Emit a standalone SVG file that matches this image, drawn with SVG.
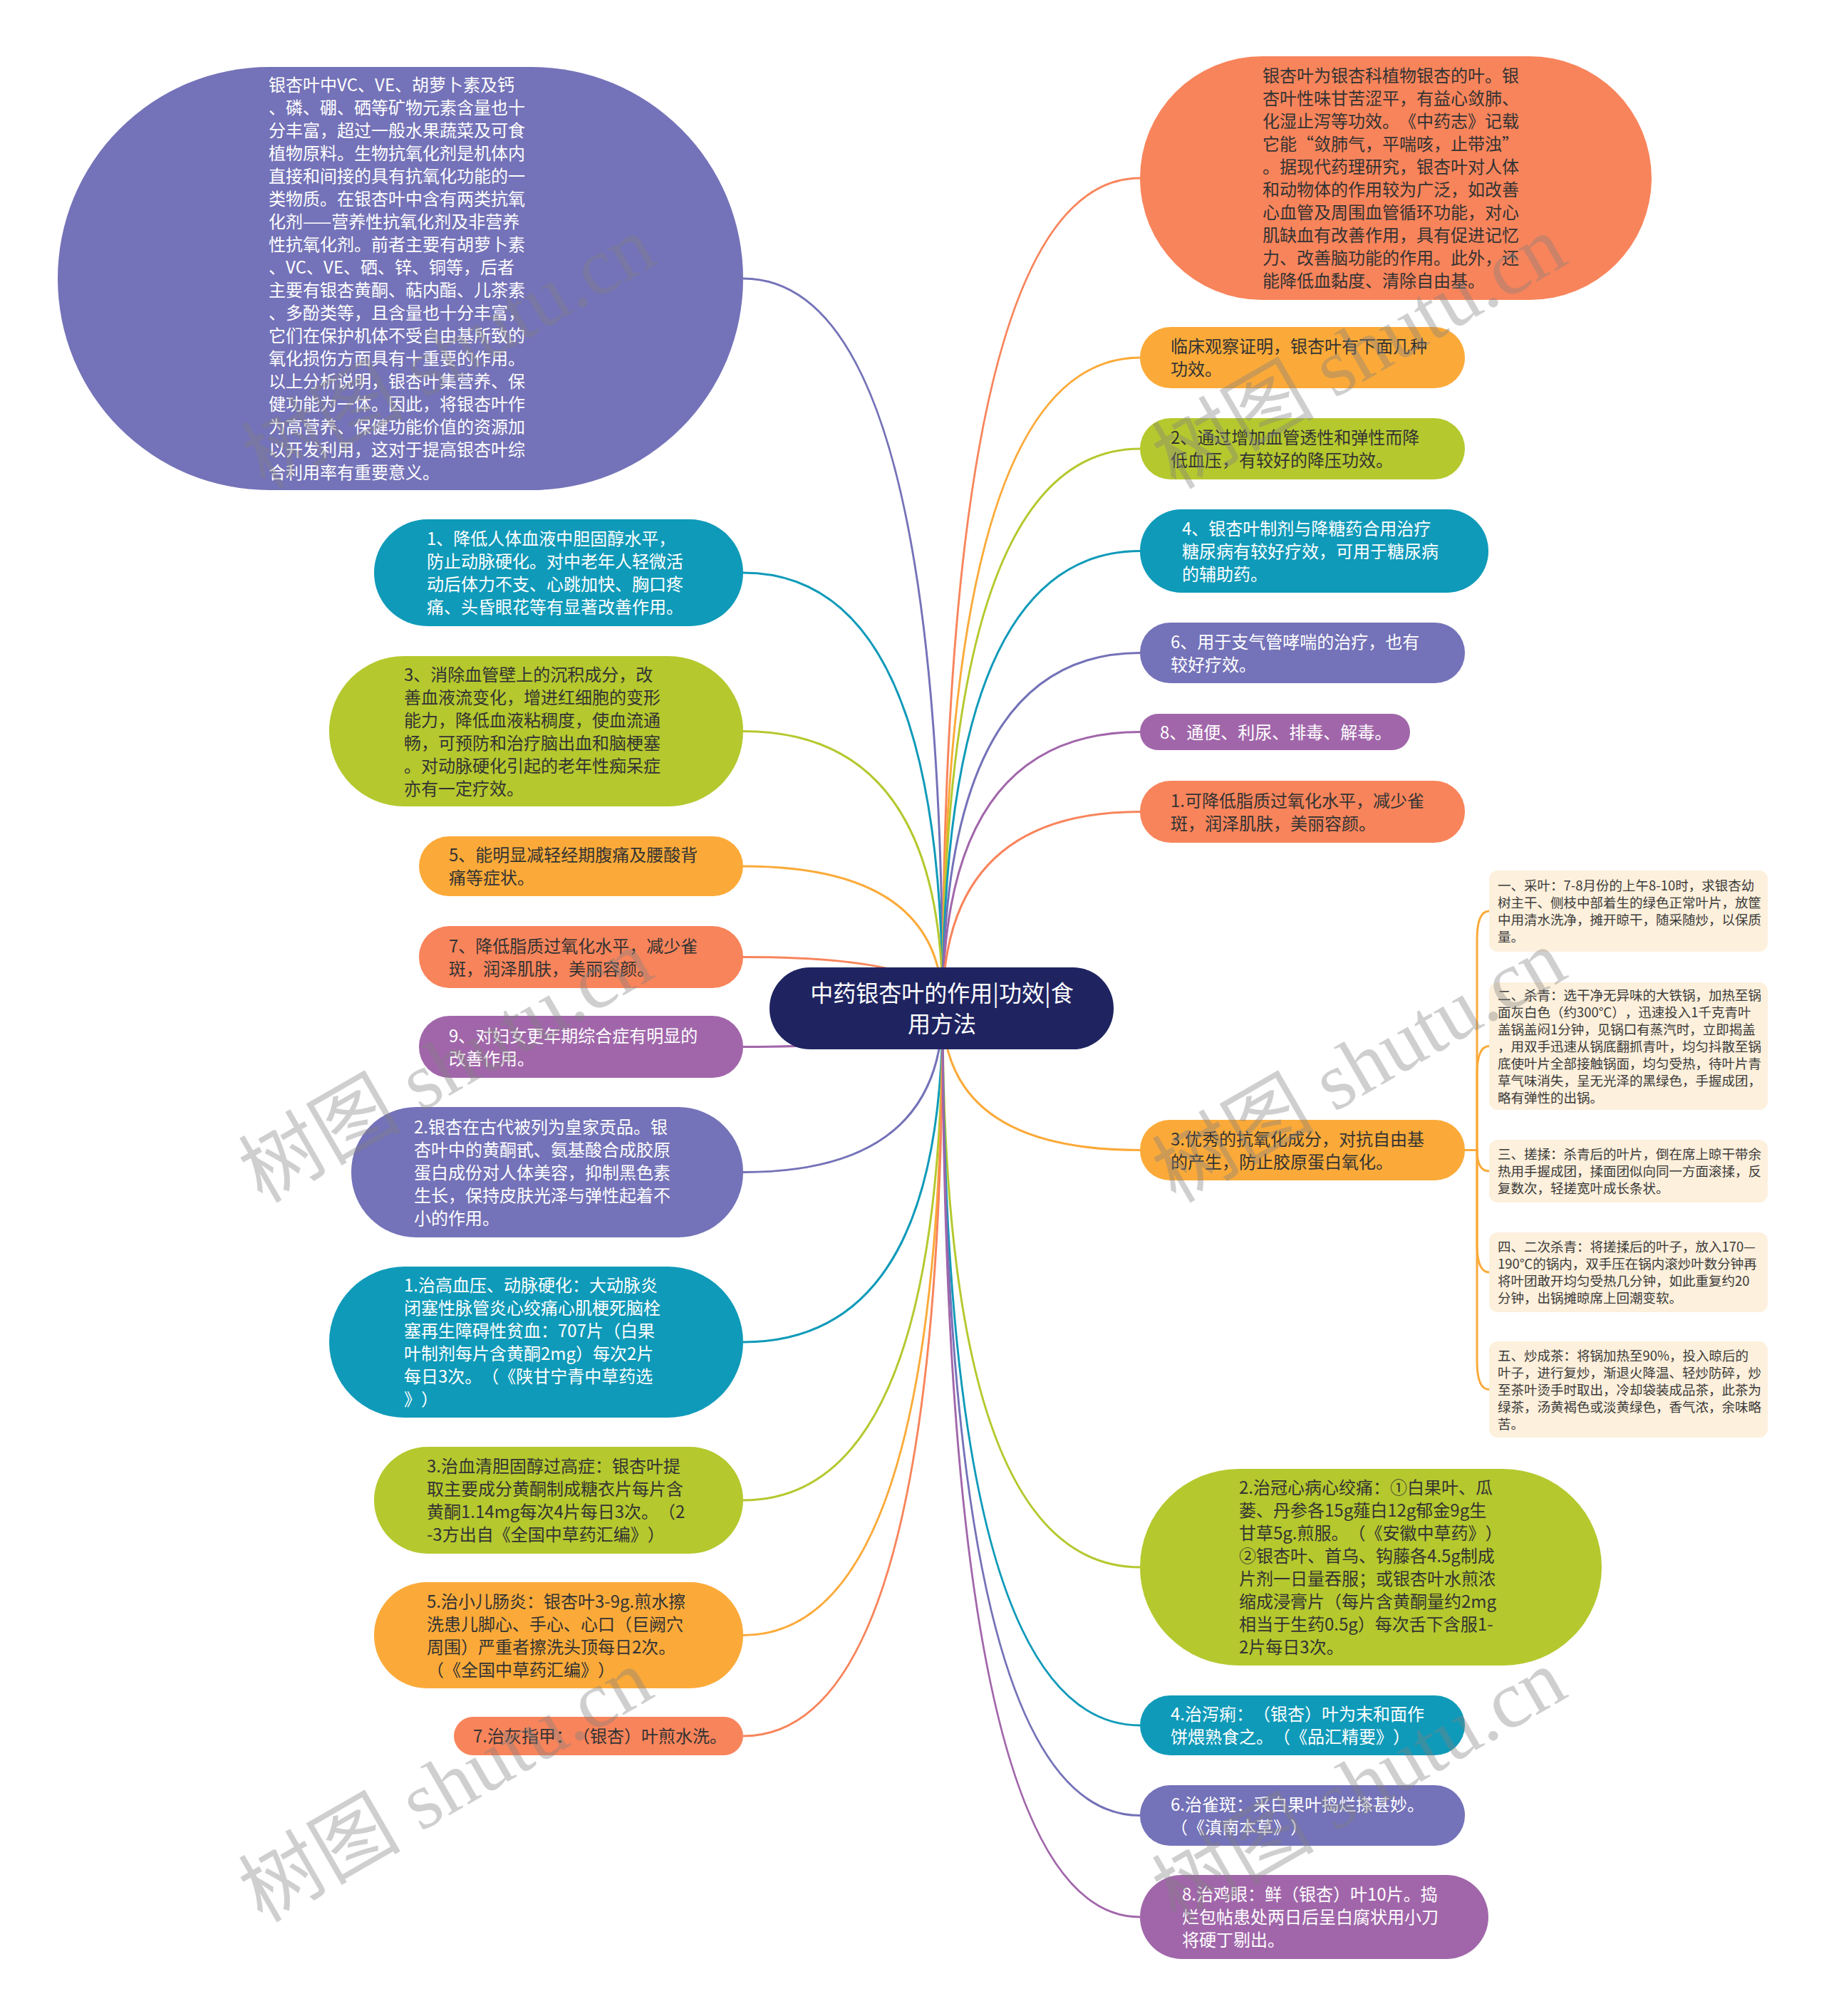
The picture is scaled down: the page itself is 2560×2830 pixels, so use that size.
<svg xmlns="http://www.w3.org/2000/svg" width="2560" height="2830" viewBox="0 0 2560 2830">
<style>
text{font-family:"Noto Sans CJK SC","Noto Sans",sans-serif;font-size:24px;text-spacing-trim:space-all;font-kerning:none}
.w{fill:#ffffff}
.d{fill:#333333}
.s{font-size:18.5px;fill:#3a3a3a}
.c{fill:none;stroke-width:3}
.pb{fill:#7472b8}.te{fill:#0f9ab9}.gr{fill:#b5c82e}.or{fill:#fbaa39}.sa{fill:#f8845b}.pu{fill:#a166aa}.cr{fill:#fdf0dc}
.spb{stroke:#7472b8}.ste{stroke:#0f9ab9}.sgr{stroke:#b5c82e}.sor{stroke:#fbaa39}.ssa{stroke:#f8845b}.spu{stroke:#a166aa}
.wm{font-family:"Liberation Serif","Noto Sans CJK SC",serif;font-size:114px;fill:#808080;fill-opacity:0.38}
</style>
<rect width="2560" height="2830" fill="#ffffff"/>
<g id="connectors">
<path class="c spb" d="M1323 1415 Q1323 391 1043 391"/>
<path class="c ste" d="M1323 1415 Q1323 804 1043 804"/>
<path class="c sgr" d="M1323 1415 Q1323 1026.5 1043 1026.5"/>
<path class="c sor" d="M1323 1415 Q1323 1216 1043 1216"/>
<path class="c ssa" d="M1323 1415 Q1323 1343.5 1043 1343.5"/>
<path class="c spu" d="M1323 1415 Q1323 1469.5 1043 1469.5"/>
<path class="c spb" d="M1323 1415 Q1323 1645.5 1043 1645.5"/>
<path class="c ste" d="M1323 1415 Q1323 1884 1043 1884"/>
<path class="c sgr" d="M1323 1415 Q1323 2106 1043 2106"/>
<path class="c sor" d="M1323 1415 Q1323 2295.5 1043 2295.5"/>
<path class="c ssa" d="M1323 1415 Q1323 2437 1043 2437"/>
<path class="c ssa" d="M1323 1415 Q1323 250 1600 250"/>
<path class="c sor" d="M1323 1415 Q1323 502 1600 502"/>
<path class="c sgr" d="M1323 1415 Q1323 630 1600 630"/>
<path class="c ste" d="M1323 1415 Q1323 773.5 1600 773.5"/>
<path class="c spb" d="M1323 1415 Q1323 916.5 1600 916.5"/>
<path class="c spu" d="M1323 1415 Q1323 1027.5 1600 1027.5"/>
<path class="c ssa" d="M1323 1415 Q1323 1139.5 1600 1139.5"/>
<path class="c sor" d="M1323 1415 Q1323 1614.5 1600 1614.5"/>
<path class="c sgr" d="M1323 1415 Q1323 2200 1600 2200"/>
<path class="c ste" d="M1323 1415 Q1323 2422 1600 2422"/>
<path class="c spb" d="M1323 1415 Q1323 2548.5 1600 2548.5"/>
<path class="c spu" d="M1323 1415 Q1323 2691 1600 2691"/>
<path class="c sor" d="M2056 1614.5 H2073 V1319 Q2073 1279 2090 1279"/>
<path class="c sor" d="M2056 1614.5 H2073 V1508.5 Q2073 1468.5 2090 1468.5"/>
<path class="c sor" d="M2056 1614.5 H2073 Q2073 1644 2090 1644"/>
<path class="c sor" d="M2056 1614.5 H2073 V1746 Q2073 1786 2090 1786"/>
<path class="c sor" d="M2056 1614.5 H2073 V1910.5 Q2073 1950.5 2090 1950.5"/>
</g>
<g id="center">
<rect x="1080" y="1358" width="483" height="115" rx="57" fill="#1f2461"/>
<text class="w" style="font-size:32px" text-anchor="middle" x="1322" y="1406">中药银杏叶的作用|功效|食<tspan x="1322" dy="43">用方法</tspan></text>
</g>
<g id="L0">
<rect class="pb" x="81" y="94" width="962" height="594" rx="297"/>
<text class="w" x="377" y="128">银杏叶中VC、VE、胡萝卜素及钙<tspan x="377" dy="32">、磷、硼、硒等矿物元素含量也十</tspan><tspan x="377" dy="32">分丰富，超过一般水果蔬菜及可食</tspan><tspan x="377" dy="32">植物原料。生物抗氧化剂是机体内</tspan><tspan x="377" dy="32">直接和间接的具有抗氧化功能的一</tspan><tspan x="377" dy="32">类物质。在银杏叶中含有两类抗氧</tspan><tspan x="377" dy="32">化剂——营养性抗氧化剂及非营养</tspan><tspan x="377" dy="32">性抗氧化剂。前者主要有胡萝卜素</tspan><tspan x="377" dy="32">、VC、VE、硒、锌、铜等，后者</tspan><tspan x="377" dy="32">主要有银杏黄酮、萜内酯、儿茶素</tspan><tspan x="377" dy="32">、多酚类等，且含量也十分丰富，</tspan><tspan x="377" dy="32">它们在保护机体不受自由基所致的</tspan><tspan x="377" dy="32">氧化损伤方面具有十重要的作用。</tspan><tspan x="377" dy="32">以上分析说明，银杏叶集营养、保</tspan><tspan x="377" dy="32">健功能为一体。因此，将银杏叶作</tspan><tspan x="377" dy="32">为高营养、保健功能价值的资源加</tspan><tspan x="377" dy="32">以开发利用，这对于提高银杏叶综</tspan><tspan x="377" dy="32">合利用率有重要意义。</tspan></text>
</g>
<g id="L1">
<rect class="te" x="525" y="729" width="518" height="150" rx="75"/>
<text class="w" x="599" y="765">1、降低人体血液中胆固醇水平，<tspan x="599" dy="32">防止动脉硬化。对中老年人轻微活</tspan><tspan x="599" dy="32">动后体力不支、心跳加快、胸口疼</tspan><tspan x="599" dy="32">痛、头昏眼花等有显著改善作用。</tspan></text>
</g>
<g id="L2">
<rect class="gr" x="462" y="921" width="581" height="211" rx="105"/>
<text class="d" x="567" y="955.5">3、消除血管壁上的沉积成分，改<tspan x="567" dy="32">善血液流变化，增进红细胞的变形</tspan><tspan x="567" dy="32">能力，降低血液粘稠度，使血流通</tspan><tspan x="567" dy="32">畅，可预防和治疗脑出血和脑梗塞</tspan><tspan x="567" dy="32">。对动脉硬化引起的老年性痴呆症</tspan><tspan x="567" dy="32">亦有一定疗效。</tspan></text>
</g>
<g id="L3">
<rect class="or" x="588" y="1174" width="455" height="84" rx="42"/>
<text class="d" x="630" y="1209">5、能明显减轻经期腹痛及腰酸背<tspan x="630" dy="32">痛等症状。</tspan></text>
</g>
<g id="L4">
<rect class="sa" x="588" y="1300" width="455" height="87" rx="43"/>
<text class="d" x="630" y="1336.5">7、降低脂质过氧化水平，减少雀<tspan x="630" dy="32">斑，润泽肌肤，美丽容颜。</tspan></text>
</g>
<g id="L5">
<rect class="pu" x="588" y="1426" width="455" height="87" rx="43"/>
<text class="w" x="630" y="1462.5">9、对妇女更年期综合症有明显的<tspan x="630" dy="32">改善作用。</tspan></text>
</g>
<g id="L6">
<rect class="pb" x="493" y="1554" width="550" height="183" rx="91"/>
<text class="w" x="581" y="1590.5">2.银杏在古代被列为皇家贡品。银<tspan x="581" dy="32">杏叶中的黄酮甙、氨基酸合成胶原</tspan><tspan x="581" dy="32">蛋白成份对人体美容，抑制黑色素</tspan><tspan x="581" dy="32">生长，保持皮肤光泽与弹性起着不</tspan><tspan x="581" dy="32">小的作用。</tspan></text>
</g>
<g id="L7">
<rect class="te" x="462" y="1778" width="581" height="212" rx="106"/>
<text class="w" x="567" y="1813">1.治高血压、动脉硬化：大动脉炎<tspan x="567" dy="32">闭塞性脉管炎心绞痛心肌梗死脑栓</tspan><tspan x="567" dy="32">塞再生障碍性贫血：707片（白果</tspan><tspan x="567" dy="32">叶制剂每片含黄酮2mg）每次2片</tspan><tspan x="567" dy="32">每日3次。（《陕甘宁青中草药选</tspan><tspan x="567" dy="32">》）</tspan></text>
</g>
<g id="L8">
<rect class="gr" x="525" y="2031" width="518" height="150" rx="75"/>
<text class="d" x="599" y="2067">3.治血清胆固醇过高症：银杏叶提<tspan x="599" dy="32">取主要成分黄酮制成糖衣片每片含</tspan><tspan x="599" dy="32">黄酮1.14mg每次4片每日3次。（2</tspan><tspan x="599" dy="32">-3方出自《全国中草药汇编》）</tspan></text>
</g>
<g id="L9">
<rect class="or" x="525" y="2221" width="518" height="149" rx="74"/>
<text class="d" x="599" y="2256.5">5.治小儿肠炎：银杏叶3-9g.煎水擦<tspan x="599" dy="32">洗患儿脚心、手心、心口（巨阙穴</tspan><tspan x="599" dy="32">周围）严重者擦洗头顶每日2次。</tspan><tspan x="599" dy="32">（《全国中草药汇编》）</tspan></text>
</g>
<g id="L10">
<rect class="sa" x="637" y="2410" width="406" height="54" rx="27"/>
<text class="d" x="664" y="2446">7.治灰指甲：（银杏）叶煎水洗。</text>
</g>
<g id="R1">
<rect class="sa" x="1600" y="79" width="718" height="342" rx="171"/>
<text class="d" x="1772" y="115">银杏叶为银杏科植物银杏的叶。银<tspan x="1772" dy="32">杏叶性味甘苦涩平，有益心敛肺、</tspan><tspan x="1772" dy="32">化湿止泻等功效。《中药志》记载</tspan><tspan x="1772" dy="32">它能“敛肺气，平喘咳，止带浊”</tspan><tspan x="1772" dy="32">。据现代药理研究，银杏叶对人体</tspan><tspan x="1772" dy="32">和动物体的作用较为广泛，如改善</tspan><tspan x="1772" dy="32">心血管及周围血管循环功能，对心</tspan><tspan x="1772" dy="32">肌缺血有改善作用，具有促进记忆</tspan><tspan x="1772" dy="32">力、改善脑功能的作用。此外，还</tspan><tspan x="1772" dy="32">能降低血黏度、清除自由基。</tspan></text>
</g>
<g id="R2">
<rect class="or" x="1600" y="459" width="456" height="86" rx="43"/>
<text class="d" x="1643" y="495">临床观察证明，银杏叶有下面几种<tspan x="1643" dy="32">功效。</tspan></text>
</g>
<g id="R3">
<rect class="gr" x="1600" y="587" width="456" height="86" rx="43"/>
<text class="d" x="1643" y="623">2、通过增加血管透性和弹性而降<tspan x="1643" dy="32">低血压，有较好的降压功效。</tspan></text>
</g>
<g id="R4">
<rect class="te" x="1600" y="715" width="489" height="117" rx="58"/>
<text class="w" x="1659" y="750.5">4、银杏叶制剂与降糖药合用治疗<tspan x="1659" dy="32">糖尿病有较好疗效，可用于糖尿病</tspan><tspan x="1659" dy="32">的辅助药。</tspan></text>
</g>
<g id="R5">
<rect class="pb" x="1600" y="874" width="456" height="85" rx="42"/>
<text class="w" x="1643" y="909.5">6、用于支气管哮喘的治疗，也有<tspan x="1643" dy="32">较好疗效。</tspan></text>
</g>
<g id="R6">
<rect class="pu" x="1600" y="1002" width="379" height="51" rx="25"/>
<text class="w" x="1628" y="1036.5">8、通便、利尿、排毒、解毒。</text>
</g>
<g id="R7">
<rect class="sa" x="1600" y="1096" width="456" height="87" rx="43"/>
<text class="d" x="1643" y="1132.5">1.可降低脂质过氧化水平，减少雀<tspan x="1643" dy="32">斑，润泽肌肤，美丽容颜。</tspan></text>
</g>
<g id="R8">
<rect class="or" x="1600" y="1572" width="456" height="85" rx="42"/>
<text class="d" x="1643" y="1607.5">3.优秀的抗氧化成分，对抗自由基<tspan x="1643" dy="32">的产生，防止胶原蛋白氧化。</tspan></text>
</g>
<g id="C1">
<rect class="cr" x="2090" y="1222" width="391" height="114" rx="12"/>
<text class="s" x="2102" y="1250">一、采叶：7-8月份的上午8-10时，求银杏幼<tspan x="2102" dy="24">树主干、侧枝中部着生的绿色正常叶片，放筐</tspan><tspan x="2102" dy="24">中用清水洗净，摊开晾干，随采随炒，以保质</tspan><tspan x="2102" dy="24">量。</tspan></text>
</g>
<g id="C2">
<rect class="cr" x="2090" y="1379" width="391" height="179" rx="12"/>
<text class="s" x="2102" y="1403.5">二、杀青：选干净无异味的大铁锅，加热至锅<tspan x="2102" dy="24">面灰白色（约300℃），迅速投入1千克青叶</tspan><tspan x="2102" dy="24">盖锅盖闷1分钟，见锅口有蒸汽时，立即揭盖</tspan><tspan x="2102" dy="24">，用双手迅速从锅底翻抓青叶，均匀抖散至锅</tspan><tspan x="2102" dy="24">底使叶片全部接触锅面，均匀受热，待叶片青</tspan><tspan x="2102" dy="24">草气味消失，呈无光泽的黑绿色，手握成团，</tspan><tspan x="2102" dy="24">略有弹性的出锅。</tspan></text>
</g>
<g id="C3">
<rect class="cr" x="2090" y="1600" width="391" height="88" rx="12"/>
<text class="s" x="2102" y="1627">三、搓揉：杀青后的叶片，倒在席上晾干带余<tspan x="2102" dy="24">热用手握成团，揉面团似向同一方面滚揉，反</tspan><tspan x="2102" dy="24">复数次，轻搓宽叶成长条状。</tspan></text>
</g>
<g id="C4">
<rect class="cr" x="2090" y="1730" width="391" height="112" rx="12"/>
<text class="s" x="2102" y="1757">四、二次杀青：将搓揉后的叶子，放入170—<tspan x="2102" dy="24">190℃的锅内，双手压在锅内滚炒叶数分钟再</tspan><tspan x="2102" dy="24">将叶团敢开均匀受热几分钟，如此重复约20</tspan><tspan x="2102" dy="24">分钟，出锅摊晾席上回潮变软。</tspan></text>
</g>
<g id="C5">
<rect class="cr" x="2090" y="1883" width="391" height="135" rx="12"/>
<text class="s" x="2102" y="1909.5">五、炒成茶：将锅加热至90%，投入晾后的<tspan x="2102" dy="24">叶子，进行复炒，渐退火降温、轻炒防碎，炒</tspan><tspan x="2102" dy="24">至茶叶烫手时取出，冷却袋装成品茶，此茶为</tspan><tspan x="2102" dy="24">绿茶，汤黄褐色或淡黄绿色，香气浓，余味略</tspan><tspan x="2102" dy="24">苦。</tspan></text>
</g>
<g id="R9">
<rect class="gr" x="1600" y="2062" width="648" height="276" rx="138"/>
<text class="d" x="1739" y="2097">2.治冠心病心绞痛：①白果叶、瓜<tspan x="1739" dy="32">蒌、丹参各15g薤白12g郁金9g生</tspan><tspan x="1739" dy="32">甘草5g.煎服。（《安徽中草药》）</tspan><tspan x="1739" dy="32">②银杏叶、首乌、钩藤各4.5g制成</tspan><tspan x="1739" dy="32">片剂一日量吞服；或银杏叶水煎浓</tspan><tspan x="1739" dy="32">缩成浸膏片（每片含黄酮量约2mg</tspan><tspan x="1739" dy="32">相当于生药0.5g）每次舌下含服1-</tspan><tspan x="1739" dy="32">2片每日3次。</tspan></text>
</g>
<g id="R10">
<rect class="te" x="1600" y="2380" width="456" height="84" rx="42"/>
<text class="w" x="1643" y="2415">4.治泻痢：（银杏）叶为末和面作<tspan x="1643" dy="32">饼煨熟食之。（《品汇精要》）</tspan></text>
</g>
<g id="R11">
<rect class="pb" x="1600" y="2506" width="456" height="85" rx="42"/>
<text class="w" x="1643" y="2541.5">6.治雀斑：采白果叶捣烂搽甚妙。<tspan x="1643" dy="32">（《滇南本草》）</tspan></text>
</g>
<g id="R12">
<rect class="pu" x="1600" y="2632" width="489" height="118" rx="59"/>
<text class="w" x="1659" y="2668">8.治鸡眼：鲜（银杏）叶10片。捣<tspan x="1659" dy="32">烂包帖患处两日后呈白腐状用小刀</tspan><tspan x="1659" dy="32">将硬丁剔出。</tspan></text>
</g>
<g id="watermarks">
<text class="wm" transform="translate(372 688) rotate(-30)">树图 shutu.cn</text>
<text class="wm" transform="translate(1650 688) rotate(-30)">树图 shutu.cn</text>
<text class="wm" transform="translate(368 1690) rotate(-30)">树图 shutu.cn</text>
<text class="wm" transform="translate(1650 1690) rotate(-30)">树图 shutu.cn</text>
<text class="wm" transform="translate(368 2700) rotate(-30)">树图 shutu.cn</text>
<text class="wm" transform="translate(1650 2700) rotate(-30)">树图 shutu.cn</text>
</g>
</svg>
